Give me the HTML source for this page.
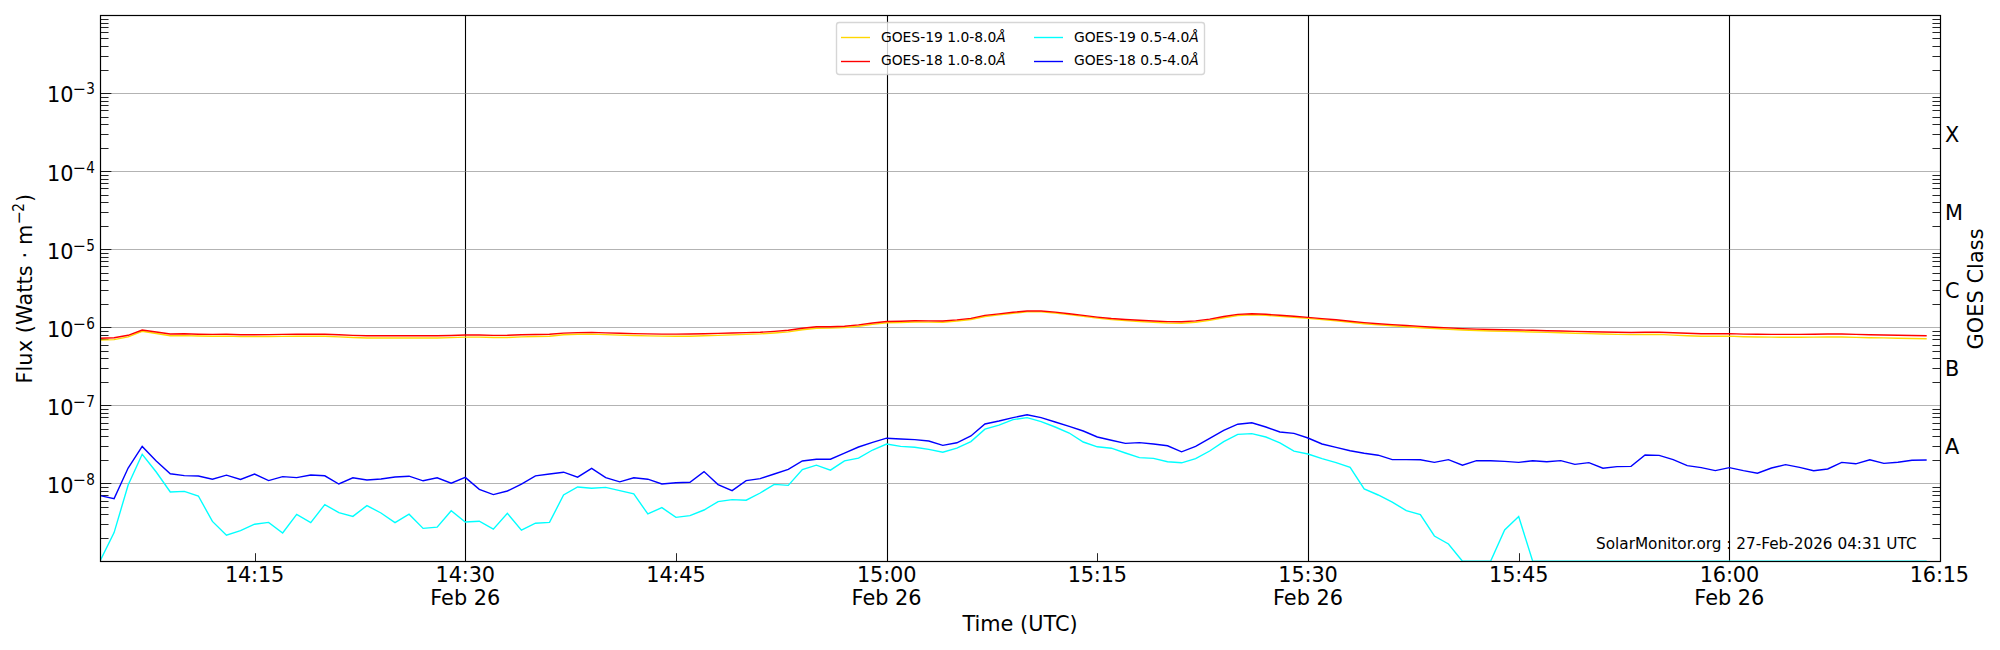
<!DOCTYPE html>
<html lang="en"><head><meta charset="utf-8"><title>GOES X-ray Flux</title>
<style>html,body{margin:0;padding:0;background:#fff}svg{display:block}text{font-family:"DejaVu Sans","Liberation Sans",sans-serif;fill:#000}.it{font-family:"DejaVu Sans","Liberation Sans",sans-serif;font-style:oblique}</style></head><body>
<svg width="2000" height="650" viewBox="0 0 2000 650">
<rect width="2000" height="650" fill="#fff"/>
<defs><clipPath id="ax"><rect x="100" y="15" width="1840" height="546"/></clipPath></defs>
<path d="M465.5 15V561M887.5 15V561M1308.5 15V561M1729.5 15V561" stroke="#000" stroke-width="1.1" fill="none"/>
<path d="M100 483.5H1940M100 405.5H1940M100 327.5H1940M100 249.5H1940M100 171.5H1940M100 93.5H1940" stroke="#808080" stroke-opacity="0.6" stroke-width="1.1" fill="none"/>
<path d="M100.5 483.5h10.9M100.5 405.5h10.9M100.5 327.5h10.9M100.5 249.5h10.9M100.5 171.5h10.9M100.5 93.5h10.9M255.5 561.5v-8.3M676.5 561.5v-8.3M1097.5 561.5v-8.3M1519.5 561.5v-8.3" stroke="#000" stroke-width="0.85" fill="none"/>
<path d="M100.5 538.5h8.05M1940.5 538.5h-8.05M100.5 524.5h8.05M1940.5 524.5h-8.05M100.5 514.5h8.05M1940.5 514.5h-8.05M100.5 507.5h8.05M1940.5 507.5h-8.05M100.5 501.5h8.05M1940.5 501.5h-8.05M100.5 495.5h8.05M1940.5 495.5h-8.05M100.5 491.5h8.05M1940.5 491.5h-8.05M100.5 487.5h8.05M1940.5 487.5h-8.05M100.5 460.5h8.05M1940.5 460.5h-8.05M100.5 446.5h8.05M1940.5 446.5h-8.05M100.5 436.5h8.05M1940.5 436.5h-8.05M100.5 429.5h8.05M1940.5 429.5h-8.05M100.5 423.5h8.05M1940.5 423.5h-8.05M100.5 417.5h8.05M1940.5 417.5h-8.05M100.5 413.5h8.05M1940.5 413.5h-8.05M100.5 409.5h8.05M1940.5 409.5h-8.05M100.5 382.5h8.05M1940.5 382.5h-8.05M100.5 368.5h8.05M1940.5 368.5h-8.05M100.5 358.5h8.05M1940.5 358.5h-8.05M100.5 351.5h8.05M1940.5 351.5h-8.05M100.5 345.5h8.05M1940.5 345.5h-8.05M100.5 339.5h8.05M1940.5 339.5h-8.05M100.5 335.5h8.05M1940.5 335.5h-8.05M100.5 331.5h8.05M1940.5 331.5h-8.05M100.5 304.5h8.05M1940.5 304.5h-8.05M100.5 290.5h8.05M1940.5 290.5h-8.05M100.5 280.5h8.05M1940.5 280.5h-8.05M100.5 273.5h8.05M1940.5 273.5h-8.05M100.5 266.5h8.05M1940.5 266.5h-8.05M100.5 261.5h8.05M1940.5 261.5h-8.05M100.5 257.5h8.05M1940.5 257.5h-8.05M100.5 253.5h8.05M1940.5 253.5h-8.05M100.5 226.5h8.05M1940.5 226.5h-8.05M100.5 212.5h8.05M1940.5 212.5h-8.05M100.5 202.5h8.05M1940.5 202.5h-8.05M100.5 195.5h8.05M1940.5 195.5h-8.05M100.5 188.5h8.05M1940.5 188.5h-8.05M100.5 183.5h8.05M1940.5 183.5h-8.05M100.5 179.5h8.05M1940.5 179.5h-8.05M100.5 175.5h8.05M1940.5 175.5h-8.05M100.5 148.5h8.05M1940.5 148.5h-8.05M100.5 134.5h8.05M1940.5 134.5h-8.05M100.5 124.5h8.05M1940.5 124.5h-8.05M100.5 117.5h8.05M1940.5 117.5h-8.05M100.5 110.5h8.05M1940.5 110.5h-8.05M100.5 105.5h8.05M1940.5 105.5h-8.05M100.5 101.5h8.05M1940.5 101.5h-8.05M100.5 97.5h8.05M1940.5 97.5h-8.05M100.5 70.5h8.05M1940.5 70.5h-8.05M100.5 56.5h8.05M1940.5 56.5h-8.05M100.5 46.5h8.05M1940.5 46.5h-8.05M100.5 38.5h8.05M1940.5 38.5h-8.05M100.5 32.5h8.05M1940.5 32.5h-8.05M100.5 27.5h8.05M1940.5 27.5h-8.05M100.5 23.5h8.05M1940.5 23.5h-8.05M100.5 19.5h8.05M1940.5 19.5h-8.05" stroke="#000" stroke-width="0.85" fill="none"/>
<g clip-path="url(#ax)">
<polyline points="100.05,340.10 114.10,339.60 128.14,336.85 142.19,331.30 156.23,333.55 170.28,335.80 184.32,335.62 198.37,336.04 212.42,336.26 226.46,336.18 240.51,336.60 254.55,336.62 268.60,336.55 282.65,336.38 296.69,336.20 310.74,336.23 324.78,336.27 338.83,336.90 352.87,337.53 366.92,337.97 380.97,338.00 395.01,338.00 409.06,338.00 423.10,338.00 437.15,338.00 451.20,337.68 465.24,337.15 479.29,337.12 493.33,337.50 507.38,337.50 521.42,336.90 535.47,336.50 549.52,336.20 563.56,334.80 577.61,334.30 591.65,334.10 605.70,334.67 619.74,335.13 633.79,335.50 647.84,335.88 661.88,336.15 675.93,336.23 689.97,336.20 704.02,335.80 718.07,335.33 732.11,334.86 746.16,334.39 760.20,333.91 774.25,333.04 788.29,331.87 802.34,329.70 816.39,328.27 830.43,328.13 844.48,327.60 858.52,326.27 872.57,324.33 886.61,322.80 900.66,322.47 914.71,322.05 928.75,322.12 942.80,322.20 956.84,321.05 970.89,319.50 984.94,316.45 998.98,314.90 1013.03,313.25 1027.07,311.90 1041.12,311.92 1055.16,313.04 1069.21,314.66 1083.26,316.38 1097.30,318.10 1111.35,319.58 1125.39,320.67 1139.44,321.55 1153.49,322.33 1167.53,323.02 1181.58,323.30 1195.62,322.30 1209.67,320.40 1223.71,317.70 1237.76,315.50 1251.81,314.70 1265.85,315.30 1279.90,316.30 1293.94,317.30 1307.99,318.40 1322.03,319.63 1336.08,320.87 1350.13,322.30 1364.17,323.73 1378.22,324.87 1392.26,325.80 1406.31,326.74 1420.36,327.69 1434.40,328.53 1448.45,329.27 1462.49,330.01 1476.54,330.56 1490.58,331.00 1504.63,331.30 1518.68,331.64 1532.72,331.98 1546.77,332.42 1560.81,332.76 1574.86,333.20 1588.90,333.60 1602.95,334.00 1617.00,334.35 1631.04,334.60 1645.09,334.45 1659.13,334.40 1673.18,335.10 1687.23,335.70 1701.27,336.20 1715.32,336.20 1729.36,336.10 1743.41,336.70 1757.45,337.00 1771.50,337.17 1785.55,337.23 1799.59,337.30 1813.64,337.15 1827.68,337.00 1841.73,336.98 1855.78,337.35 1869.82,337.73 1883.87,337.90 1897.91,338.23 1911.96,338.47 1926.00,338.80" fill="none" stroke="#ffd700" stroke-width="1.39" stroke-linejoin="miter" stroke-miterlimit="10" stroke-linecap="square"/>
<polyline points="100.05,338.30 114.10,337.80 128.14,335.30 142.19,330.00 156.23,332.00 170.28,334.00 184.32,333.80 198.37,334.20 212.42,334.40 226.46,334.30 240.51,334.70 254.55,334.70 268.60,334.60 282.65,334.40 296.69,334.20 310.74,334.20 324.78,334.20 338.83,334.80 352.87,335.40 366.92,335.80 380.97,335.80 395.01,335.80 409.06,335.80 423.10,335.80 437.15,335.80 451.20,335.50 465.24,335.00 479.29,335.00 493.33,335.40 507.38,335.30 521.42,334.80 535.47,334.50 549.52,334.30 563.56,333.10 577.61,332.60 591.65,332.40 605.70,332.90 619.74,333.30 633.79,333.60 647.84,333.90 661.88,334.10 675.93,334.10 689.97,334.00 704.02,333.80 718.07,333.40 732.11,333.00 746.16,332.60 760.20,332.20 774.25,331.40 788.29,330.30 802.34,328.20 816.39,326.80 830.43,326.70 844.48,326.20 858.52,324.90 872.57,323.00 886.61,321.50 900.66,321.20 914.71,320.80 928.75,320.90 942.80,321.00 956.84,319.90 970.89,318.40 984.94,315.40 998.98,313.90 1013.03,312.30 1027.07,311.00 1041.12,311.00 1055.16,312.10 1069.21,313.70 1083.26,315.40 1097.30,317.10 1111.35,318.50 1125.39,319.50 1139.44,320.30 1153.49,321.00 1167.53,321.60 1181.58,321.80 1195.62,320.90 1209.67,319.10 1223.71,316.50 1237.76,314.40 1251.81,313.70 1265.85,314.30 1279.90,315.30 1293.94,316.30 1307.99,317.40 1322.03,318.60 1336.08,319.80 1350.13,321.20 1364.17,322.60 1378.22,323.70 1392.26,324.60 1406.31,325.50 1420.36,326.40 1434.40,327.20 1448.45,327.90 1462.49,328.60 1476.54,329.10 1490.58,329.50 1504.63,329.70 1518.68,330.00 1532.72,330.30 1546.77,330.70 1560.81,331.00 1574.86,331.40 1588.90,331.70 1602.95,332.00 1617.00,332.30 1631.04,332.50 1645.09,332.30 1659.13,332.20 1673.18,332.80 1687.23,333.30 1701.27,333.70 1715.32,333.70 1729.36,333.60 1743.41,334.10 1757.45,334.30 1771.50,334.40 1785.55,334.40 1799.59,334.40 1813.64,334.20 1827.68,334.00 1841.73,334.00 1855.78,334.40 1869.82,334.80 1883.87,335.00 1897.91,335.30 1911.96,335.50 1926.00,335.80" fill="none" stroke="#ff0000" stroke-width="1.39" stroke-linejoin="miter" stroke-miterlimit="10" stroke-linecap="square"/>
<polyline points="100.05,561.00 114.10,532.60 128.14,485.00 142.19,454.30 156.23,472.00 170.28,492.00 184.32,491.40 198.37,496.00 212.42,521.40 226.46,535.20 240.51,530.60 254.55,524.20 268.60,522.40 282.65,533.00 296.69,514.40 310.74,522.60 324.78,504.60 338.83,512.60 352.87,516.40 366.92,505.60 380.97,513.00 395.01,522.60 409.06,514.20 423.10,528.40 437.15,527.20 451.20,510.80 465.24,522.00 479.29,521.20 493.33,529.20 507.38,513.40 521.42,530.20 535.47,523.20 549.52,522.40 563.56,495.00 577.61,487.00 591.65,488.20 605.70,487.40 619.74,490.60 633.79,493.80 647.84,514.00 661.88,507.60 675.93,517.40 689.97,515.60 704.02,510.00 718.07,501.60 732.11,499.60 746.16,500.20 760.20,493.00 774.25,484.40 788.29,485.40 802.34,469.60 816.39,465.20 830.43,470.20 844.48,460.80 858.52,458.20 872.57,450.00 886.61,444.00 900.66,446.40 914.71,447.20 928.75,449.40 942.80,452.20 956.84,448.20 970.89,441.60 984.94,429.20 998.98,425.20 1013.03,419.60 1027.07,417.60 1041.12,421.60 1055.16,427.00 1069.21,433.00 1083.26,442.00 1097.30,446.80 1111.35,448.20 1125.39,453.00 1139.44,457.60 1153.49,458.40 1167.53,461.80 1181.58,462.80 1195.62,458.60 1209.67,451.00 1223.71,441.60 1237.76,434.40 1251.81,433.60 1265.85,437.00 1279.90,442.80 1293.94,451.20 1307.99,454.00 1322.03,458.60 1336.08,462.60 1350.13,467.40 1364.17,489.00 1378.22,495.00 1392.26,502.20 1406.31,510.60 1420.36,514.60 1434.40,536.00 1448.45,544.00 1462.49,561.30 1476.54,561.30 1490.58,561.30 1504.63,530.00 1518.68,516.60 1532.72,561.30 1546.77,561.30 1560.81,561.30 1574.86,561.30 1588.90,561.30 1602.95,561.30 1617.00,561.30 1631.04,561.30 1645.09,561.30 1659.13,561.30 1673.18,561.30 1687.23,561.30 1701.27,561.30 1715.32,561.30 1729.36,561.30 1743.41,561.30 1757.45,561.30 1771.50,561.30 1785.55,561.30 1799.59,561.30 1813.64,561.30 1827.68,561.30 1841.73,561.30 1855.78,561.30 1869.82,561.30 1883.87,561.30 1897.91,561.30 1911.96,561.30 1926.00,561.30" fill="none" stroke="#00ffff" stroke-width="1.39" stroke-linejoin="miter" stroke-miterlimit="10" stroke-linecap="square"/>
<polyline points="100.05,495.60 114.10,498.60 128.14,468.00 142.19,446.40 156.23,461.00 170.28,473.80 184.32,475.60 198.37,476.00 212.42,479.20 226.46,475.20 240.51,479.40 254.55,474.00 268.60,480.60 282.65,476.60 296.69,477.60 310.74,475.00 324.78,475.80 338.83,484.00 352.87,477.80 366.92,480.00 380.97,479.00 395.01,477.00 409.06,476.20 423.10,480.80 437.15,477.80 451.20,483.20 465.24,477.40 479.29,489.40 493.33,494.60 507.38,491.00 521.42,484.20 535.47,475.80 549.52,474.00 563.56,472.20 577.61,477.20 591.65,468.40 605.70,477.60 619.74,481.80 633.79,477.80 647.84,479.20 661.88,484.00 675.93,482.80 689.97,482.20 704.02,471.60 718.07,484.60 732.11,490.60 746.16,480.60 760.20,478.60 774.25,474.00 788.29,469.40 802.34,461.00 816.39,459.20 830.43,459.20 844.48,453.20 858.52,447.00 872.57,442.40 886.61,438.20 900.66,439.00 914.71,439.60 928.75,441.00 942.80,445.40 956.84,442.80 970.89,436.00 984.94,424.00 998.98,421.00 1013.03,417.60 1027.07,414.80 1041.12,417.60 1055.16,422.00 1069.21,426.40 1083.26,431.00 1097.30,437.00 1111.35,440.20 1125.39,443.40 1139.44,442.60 1153.49,444.00 1167.53,445.80 1181.58,451.80 1195.62,446.40 1209.67,438.40 1223.71,430.40 1237.76,424.20 1251.81,422.80 1265.85,427.00 1279.90,432.00 1293.94,433.40 1307.99,438.00 1322.03,444.00 1336.08,447.40 1350.13,450.80 1364.17,453.20 1378.22,455.20 1392.26,459.60 1406.31,459.60 1420.36,459.80 1434.40,462.40 1448.45,459.60 1462.49,465.20 1476.54,460.60 1490.58,460.80 1504.63,461.40 1518.68,462.40 1532.72,460.80 1546.77,461.80 1560.81,460.60 1574.86,464.40 1588.90,462.60 1602.95,468.20 1617.00,466.60 1631.04,466.40 1645.09,455.00 1659.13,455.40 1673.18,459.60 1687.23,465.60 1701.27,467.60 1715.32,470.60 1729.36,467.60 1743.41,470.60 1757.45,473.20 1771.50,468.00 1785.55,464.60 1799.59,467.40 1813.64,470.80 1827.68,469.00 1841.73,462.40 1855.78,463.80 1869.82,459.80 1883.87,463.40 1897.91,462.20 1911.96,460.20 1926.00,460.00" fill="none" stroke="#0000ff" stroke-width="1.39" stroke-linejoin="miter" stroke-miterlimit="10" stroke-linecap="square"/>
</g>
<rect x="100.5" y="15.5" width="1840" height="546" fill="none" stroke="#000" stroke-width="1.2"/>
<text x="47" y="492.6" font-size="20.83">10</text><text x="72.6" y="485.25" font-size="15.75">−</text><text transform="translate(86.2 485.25) scale(0.84 1)" font-size="16.2">8</text>
<text x="47" y="414.6" font-size="20.83">10</text><text x="72.6" y="407.25" font-size="15.75">−</text><text transform="translate(86.2 407.25) scale(0.84 1)" font-size="16.2">7</text>
<text x="47" y="336.6" font-size="20.83">10</text><text x="72.6" y="329.25" font-size="15.75">−</text><text transform="translate(86.2 329.25) scale(0.84 1)" font-size="16.2">6</text>
<text x="47" y="258.6" font-size="20.83">10</text><text x="72.6" y="251.25" font-size="15.75">−</text><text transform="translate(86.2 251.25) scale(0.84 1)" font-size="16.2">5</text>
<text x="47" y="180.6" font-size="20.83">10</text><text x="72.6" y="173.25" font-size="15.75">−</text><text transform="translate(86.2 173.25) scale(0.84 1)" font-size="16.2">4</text>
<text x="47" y="101.5" font-size="20.83">10</text><text x="72.6" y="94.15" font-size="15.75">−</text><text transform="translate(86.2 94.15) scale(0.84 1)" font-size="16.2">3</text>
<text x="1944.9" y="454.25" font-size="20.83">A</text>
<text x="1944.9" y="376.19" font-size="20.83">B</text>
<text x="1944.9" y="298.13" font-size="20.83">C</text>
<text x="1944.9" y="220.07" font-size="20.83">M</text>
<text x="1944.9" y="142.01" font-size="20.83">X</text>
<text x="254.554" y="582" font-size="20.83" text-anchor="middle" letter-spacing="-0.15">14:15</text>
<text x="465.241" y="582" font-size="20.83" text-anchor="middle" letter-spacing="-0.15">14:30</text>
<text x="465.241" y="604.5" font-size="20.83" text-anchor="middle">Feb 26</text>
<text x="675.928" y="582" font-size="20.83" text-anchor="middle" letter-spacing="-0.15">14:45</text>
<text x="886.615" y="582" font-size="20.83" text-anchor="middle" letter-spacing="-0.15">15:00</text>
<text x="886.615" y="604.5" font-size="20.83" text-anchor="middle">Feb 26</text>
<text x="1097.3" y="582" font-size="20.83" text-anchor="middle" letter-spacing="-0.15">15:15</text>
<text x="1307.99" y="582" font-size="20.83" text-anchor="middle" letter-spacing="-0.15">15:30</text>
<text x="1307.99" y="604.5" font-size="20.83" text-anchor="middle">Feb 26</text>
<text x="1518.68" y="582" font-size="20.83" text-anchor="middle" letter-spacing="-0.15">15:45</text>
<text x="1729.36" y="582" font-size="20.83" text-anchor="middle" letter-spacing="-0.15">16:00</text>
<text x="1729.36" y="604.5" font-size="20.83" text-anchor="middle">Feb 26</text>
<text x="1939.35" y="582" font-size="20.83" text-anchor="middle" letter-spacing="-0.15">16:15</text>
<text x="1020" y="630.8" font-size="20.83" text-anchor="middle">Time (UTC)</text>
<g transform="translate(32.3 288) rotate(-90)" font-size="20.83"><text x="-95.6" y="0" letter-spacing="0.1">Flux (Watts · m</text><text x="63.4" y="-8.3" font-size="15.75">−</text><text transform="translate(76.3 -8.3) scale(0.84 1)" font-size="16.2">2</text><text x="85.9" y="0">)</text></g>
<text transform="translate(1982.6 288.9) rotate(-90)" font-size="20.83" text-anchor="middle" letter-spacing="0.1">GOES Class</text>
<text x="1596" y="548.8" font-size="15.28">SolarMonitor.org : 27-Feb-2026 04:31 UTC</text>
<rect x="836.5" y="22.5" width="368" height="52" rx="2.8" ry="2.8" fill="#fff" fill-opacity="0.8" stroke="#ccc" stroke-opacity="0.8" stroke-width="1.39"/>
<path d="M841 37.5h29" stroke="#ffd700" stroke-width="1.39" fill="none"/><text x="880.9" y="41.9" font-size="13.89">GOES-19 1.0-8.0<tspan class="it">Å</tspan></text>
<path d="M841 61.5h29" stroke="#ff0000" stroke-width="1.39" fill="none"/><text x="880.9" y="65" font-size="13.89">GOES-18 1.0-8.0<tspan class="it">Å</tspan></text>
<path d="M1034 37.5h29" stroke="#00ffff" stroke-width="1.39" fill="none"/><text x="1073.9" y="41.9" font-size="13.89">GOES-19 0.5-4.0<tspan class="it">Å</tspan></text>
<path d="M1034 61.5h29" stroke="#0000ff" stroke-width="1.39" fill="none"/><text x="1073.9" y="65" font-size="13.89">GOES-18 0.5-4.0<tspan class="it">Å</tspan></text>
</svg></body></html>
